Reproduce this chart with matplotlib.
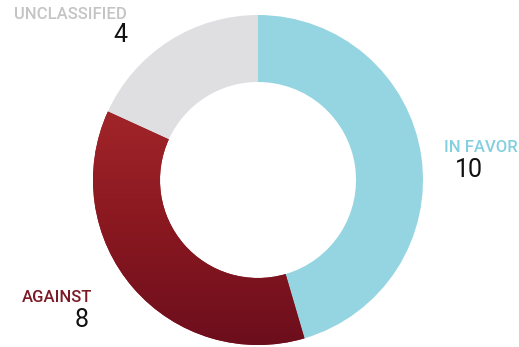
import numpy as np
import matplotlib.pyplot as plt
from matplotlib.colors import LinearSegmentedColormap

labels = ["IN FAVOR", "AGAINST", "UNCLASSIFIED"]
values = [10, 8, 4]
colors = ["#95d5e2", "#8a1820", "#dfdfe1"]
label_colors = ["#82cfdf", "#7a1a24", "#c4c4c4"]

W, H = 519, 347
fig = plt.figure(figsize=(W / 100, H / 100), dpi=100)
ax = fig.add_axes([0, 0, 1, 1])

wedges, _ = ax.pie(values, colors=colors, startangle=90, counterclock=False,
                   center=(258, H - 180), radius=165,
                   wedgeprops=dict(width=67, linewidth=0))

# soft vertical shading on the red ring segment
reds = LinearSegmentedColormap.from_list("reds", ["#6c0e1d", "#8a1820", "#a3262a"])
grad = np.linspace(0, 1, 256).reshape(-1, 1)
img = ax.imshow(grad, cmap=reds, extent=(90, 310, 0, H - 100), origin="lower",
                aspect="auto", zorder=wedges[1].get_zorder() + 0.1)
img.set_clip_path(wedges[1])

ax.set_xlim(0, W)
ax.set_ylim(0, H)
ax.set_aspect("equal")
ax.axis("off")

# label positions (pixel coords, top-left origin)
label_pos = [(518, 147), (92, 298), (127, 14)]
num_pos = [(483, 170), (89, 320), (127, 35)]
for lab, val, lc, (lx, ly), (nx, ny) in zip(labels, values, label_colors, label_pos, num_pos):
    ax.text(lx, H - ly, lab, color=lc, fontsize=12, ha="right", va="center",
            family="Roboto", weight="medium")
    ax.text(nx, H - ny, str(val), color="#111111", fontsize=18, ha="right",
            va="center", family="Roboto")

fig.savefig("out.png", dpi=100)
